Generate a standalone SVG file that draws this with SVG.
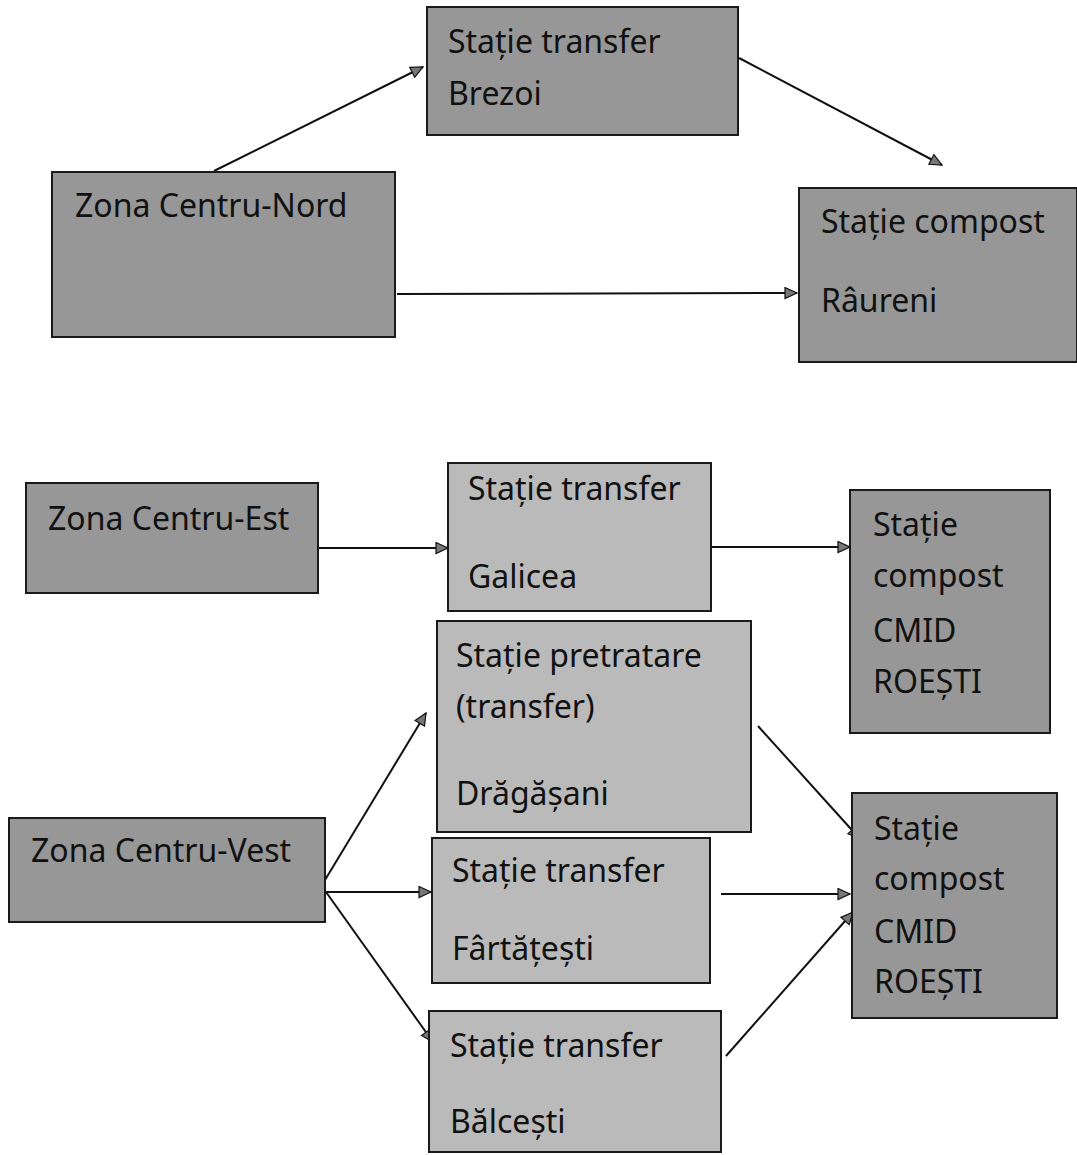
<svg xmlns="http://www.w3.org/2000/svg" width="1077" height="1155" viewBox="0 0 1077 1155">
<style>
.box{stroke:#1a1a1a;stroke-width:2}
.dark{fill:#979797}
.light{fill:#bababa}
.t{font-family:"Noto Sans","Open Sans","DejaVu Sans",sans-serif;font-size:32px;fill:#111}
.c{stroke:#111;stroke-width:2;fill:none;marker-end:url(#ah)}
</style>
<defs>
<marker id="ah" markerUnits="userSpaceOnUse" markerWidth="15" markerHeight="13" refX="13" refY="6.5" orient="auto">
<path d="M1,1 L13,6.5 L1,12 Z" fill="#777" stroke="#111" stroke-width="1.2"/>
</marker>
</defs>
<rect width="1077" height="1155" fill="#fff"/>
<g id="connectors">
<line class="c" x1="214" y1="171" x2="423" y2="67"/>
<line class="c" x1="397" y1="294" x2="797" y2="293"/>
<line class="c" x1="739" y1="58" x2="942" y2="165"/>
<line class="c" x1="319" y1="548" x2="448" y2="548"/>
<line class="c" x1="711" y1="547" x2="850" y2="547"/>
<line class="c" x1="325" y1="880" x2="426" y2="713"/>
<line class="c" x1="326" y1="892" x2="431" y2="892"/>
<line class="c" x1="326" y1="892" x2="433" y2="1042"/>
<line class="c" x1="758" y1="726" x2="860" y2="839"/>
<line class="c" x1="721" y1="894" x2="850" y2="894"/>
<line class="c" x1="726" y1="1056" x2="853" y2="912"/>
</g>
<g id="n-brezoi">
<rect class="box dark" x="427" y="7" width="311" height="128"/>
<text class="t" x="448" y="53">Stație transfer</text>
<text class="t" x="448" y="105">Brezoi</text>
</g>
<g id="n-centru-nord">
<rect class="box dark" x="52" y="172" width="343" height="165"/>
<text class="t" x="75" y="217">Zona Centru-Nord</text>
</g>
<g id="n-raureni">
<rect class="box dark" x="799" y="188" width="278" height="174"/>
<text class="t" x="821" y="233">Stație compost</text>
<text class="t" x="821" y="312">Râureni</text>
</g>
<g id="n-centru-est">
<rect class="box dark" x="26" y="483" width="292" height="110"/>
<text class="t" x="48" y="530">Zona Centru-Est</text>
</g>
<g id="n-galicea">
<rect class="box light" x="448" y="463" width="263" height="148"/>
<text class="t" x="468" y="500">Stație transfer</text>
<text class="t" x="468" y="588">Galicea</text>
</g>
<g id="n-cmid1">
<rect class="box dark" x="850" y="490" width="200" height="243"/>
<text class="t" x="873" y="536">Stație</text>
<text class="t" x="873" y="587">compost</text>
<text class="t" x="873" y="642">CMID</text>
<text class="t" x="873" y="693">ROEȘTI</text>
</g>
<g id="n-dragasani">
<rect class="box light" x="437" y="621" width="314" height="211"/>
<text class="t" x="456" y="667">Stație pretratare</text>
<text class="t" x="456" y="718">(transfer)</text>
<text class="t" x="456" y="805">Drăgășani</text>
</g>
<g id="n-centru-vest">
<rect class="box dark" x="9" y="818" width="316" height="104"/>
<text class="t" x="31" y="862">Zona Centru-Vest</text>
</g>
<g id="n-fartatesti">
<rect class="box light" x="432" y="838" width="278" height="145"/>
<text class="t" x="452" y="882">Stație transfer</text>
<text class="t" x="452" y="960">Fârtățești</text>
</g>
<g id="n-cmid2">
<rect class="box dark" x="852" y="793" width="205" height="225"/>
<text class="t" x="874" y="840">Stație</text>
<text class="t" x="874" y="890">compost</text>
<text class="t" x="874" y="943">CMID</text>
<text class="t" x="874" y="993">ROEȘTI</text>
</g>
<g id="n-balcesti">
<rect class="box light" x="429" y="1011" width="292" height="141"/>
<text class="t" x="450" y="1057">Stație transfer</text>
<text class="t" x="450" y="1133">Bălcești</text>
</g>
</svg>
